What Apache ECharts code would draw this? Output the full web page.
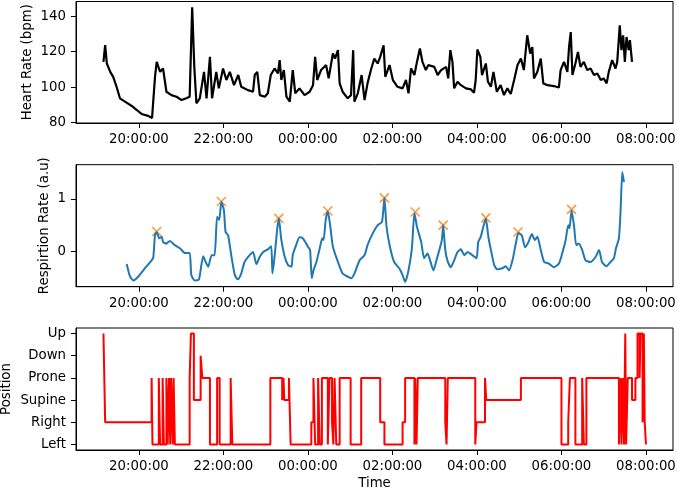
<!DOCTYPE html>
<html>
<head>
<meta charset="utf-8">
<script src="https://cdn.jsdelivr.net/npm/echarts@6/dist/echarts.min.js"></script>
<style>
  html, body { margin: 0; padding: 0; background: #fff; }
  #chart { width: 677px; height: 490px; }
</style>
</head>
<body>
<div id="chart"></div>
<script>
// time is in hours from midnight of the first day (24 = 00:00 next day)
const timeTicks = [20, 22, 24, 26, 28, 30, 32];

const hrTime = [19.16, 19.20, 19.24, 19.32, 19.39, 19.47, 19.55, 19.67, 19.83, 19.95, 20.06, 20.22, 20.31, 20.38, 20.42, 20.50, 20.57, 20.61, 20.65, 20.77, 20.89, 21.01, 21.12, 21.20, 21.26, 21.31, 21.36, 21.44, 21.54, 21.60, 21.68, 21.73, 21.83, 21.89, 21.99, 22.07, 22.15, 22.25, 22.35, 22.42, 22.58, 22.70, 22.74, 22.80, 22.86, 22.98, 23.05, 23.12, 23.21, 23.29, 23.33, 23.37, 23.43, 23.49, 23.57, 23.64, 23.70, 23.80, 23.92, 24.04, 24.12, 24.17, 24.22, 24.31, 24.43, 24.49, 24.59, 24.64, 24.71, 24.75, 24.82, 24.94, 25.02, 25.07, 25.10, 25.18, 25.27, 25.34, 25.41, 25.49, 25.57, 25.65, 25.71, 25.79, 25.83, 25.93, 26.01, 26.12, 26.24, 26.32, 26.38, 26.44, 26.52, 26.58, 26.65, 26.71, 26.79, 26.85, 26.99, 27.07, 27.15, 27.27, 27.32, 27.37, 27.42, 27.46, 27.54, 27.62, 27.74, 27.86, 27.93, 27.97, 28.01, 28.08, 28.12, 28.21, 28.26, 28.33, 28.39, 28.47, 28.56, 28.64, 28.72, 28.80, 28.88, 28.96, 29.04, 29.11, 29.19, 29.26, 29.31, 29.35, 29.43, 29.51, 29.57, 29.67, 29.82, 29.94, 29.98, 30.06, 30.14, 30.18, 30.22, 30.26, 30.33, 30.39, 30.45, 30.53, 30.61, 30.69, 30.77, 30.85, 30.93, 31.00, 31.07, 31.12, 31.20, 31.28, 31.32, 31.38, 31.42, 31.46, 31.50, 31.54, 31.59, 31.62, 31.67];
const hrValue = [114.2, 123.6, 113.3, 108.6, 105.8, 100.2, 93.7, 91.8, 89.4, 87.1, 84.9, 83.8, 82.6, 105.8, 114.2, 108.6, 110.5, 104, 97.4, 95.5, 94.6, 92.7, 93.7, 94.6, 145, 111.4, 90.9, 93.7, 108.6, 93.7, 117, 93.7, 108.6, 99.3, 110.5, 104, 108.6, 101.1, 106.8, 100.2, 98.3, 97.4, 106.8, 108.6, 95.5, 94.6, 96.5, 106.8, 110.5, 107.7, 115.2, 104, 109.6, 94.6, 91.8, 109.6, 96.5, 99.3, 95.5, 97.4, 101.1, 117, 104, 109.6, 112.4, 104.9, 118.9, 116.1, 120.8, 102.1, 97.4, 93.7, 95.5, 120.8, 91.8, 96.5, 106.8, 92.7, 102.1, 109.6, 116.1, 113.3, 117, 123.6, 105.8, 112.4, 104, 100.2, 99.3, 104, 96.5, 110.5, 106.8, 114.2, 121.7, 114.2, 109.6, 112.4, 111.4, 106.8, 109.6, 111.4, 104.9, 120.8, 114.2, 99.3, 103, 101.1, 99.3, 98.7, 96.8, 104, 121.2, 117, 106.8, 113.3, 103, 100.2, 108.6, 97.4, 101.1, 95.5, 99.3, 96.1, 104, 112.4, 116.1, 109.6, 129.2, 118.9, 122.6, 104.9, 108.6, 116.1, 102.1, 101.1, 100.6, 99.8, 109.6, 114.2, 108.6, 122.6, 131, 106.8, 113.3, 119.8, 111.4, 114.2, 109.6, 110.5, 106.8, 107.7, 104, 104.9, 102.1, 108.6, 115.2, 110.5, 114.2, 134.8, 120.8, 129.2, 114.2, 128.2, 120.8, 126.4, 114.2];

const respTime = [19.71, 19.79, 19.87, 19.98, 20.14, 20.30, 20.34, 20.38, 20.42, 20.48, 20.54, 20.57, 20.65, 20.73, 20.85, 20.97, 21.09, 21.20, 21.24, 21.32, 21.42, 21.52, 21.58, 21.64, 21.72, 21.79, 21.85, 21.90, 21.95, 22.01, 22.05, 22.11, 22.19, 22.27, 22.34, 22.42, 22.50, 22.62, 22.70, 22.78, 22.86, 22.94, 23.05, 23.13, 23.16, 23.21, 23.27, 23.31, 23.37, 23.45, 23.53, 23.61, 23.64, 23.72, 23.80, 23.88, 24.00, 24.05, 24.09, 24.13, 24.20, 24.27, 24.34, 24.37, 24.42, 24.47, 24.53, 24.59, 24.71, 24.82, 24.94, 25.02, 25.10, 25.22, 25.34, 25.41, 25.53, 25.65, 25.75, 25.79, 25.81, 25.86, 25.94, 26.04, 26.16, 26.24, 26.30, 26.38, 26.46, 26.52, 26.58, 26.68, 26.75, 26.83, 26.89, 26.97, 27.04, 27.11, 27.17, 27.20, 27.25, 27.30, 27.38, 27.46, 27.54, 27.62, 27.70, 27.78, 27.89, 27.99, 28.03, 28.09, 28.15, 28.21, 28.27, 28.33, 28.41, 28.48, 28.60, 28.68, 28.76, 28.84, 28.92, 28.98, 29.06, 29.14, 29.22, 29.30, 29.37, 29.43, 29.51, 29.59, 29.70, 29.82, 29.94, 30.04, 30.10, 30.16, 30.19, 30.24, 30.30, 30.35, 30.41, 30.49, 30.57, 30.69, 30.81, 30.89, 30.96, 31.06, 31.16, 31.24, 31.29, 31.36, 31.40, 31.44, 31.48];
const respValue = [-0.24, -0.48, -0.55, -0.48, -0.32, -0.17, -0.11, 0.31, 0.37, 0.25, 0.28, 0.18, 0.15, 0.20, 0.12, 0.06, -0.03, -0.03, -0.45, -0.55, -0.53, -0.09, -0.20, -0.29, -0.07, -0.07, 0.66, 0.60, 0.94, 0.79, 0.37, 0.31, -0.10, -0.45, -0.53, -0.42, -0.20, -0.07, -0.01, -0.24, -0.10, -0.01, 0.04, 0.10, -0.42, -0.10, 0.41, 0.63, 0.22, -0.10, -0.26, -0.29, -0.07, 0.12, 0.27, 0.25, 0.09, 0.03, -0.51, -0.36, -0.20, 0.03, 0.25, 0.22, 0.60, 0.76, 0.47, 0.09, -0.20, -0.42, -0.48, -0.51, -0.42, -0.17, -0.07, 0.12, 0.34, 0.50, 0.56, 0.85, 1.02, 0.47, 0.09, -0.20, -0.32, -0.45, -0.58, -0.36, 0.06, 0.73, 0.47, 0.18, -0.13, -0.04, -0.17, -0.36, -0.17, 0.03, 0.22, 0.50, 0.03, -0.17, -0.30, -0.17, -0.01, 0.04, -0.07, -0.01, -0.07, -0.13, 0.18, 0.28, 0.47, 0.62, 0.28, 0.03, -0.26, -0.34, -0.32, -0.28, -0.36, -0.17, 0.15, 0.35, 0.31, 0.08, 0.18, 0.33, 0.22, 0.28, 0.03, -0.20, -0.23, -0.30, -0.23, 0.03, 0.22, 0.50, 0.44, 0.78, 0.47, 0.12, 0.15, 0.03, -0.17, -0.20, -0.10, 0.03, -0.20, -0.28, -0.20, -0.13, 0.06, 0.25, 0.79, 1.51, 1.32];

const peakTime = [20.42, 21.95, 23.31, 24.47, 25.81, 26.54, 27.20, 28.21, 28.97, 30.24];
const peakValue = [0.38, 0.95, 0.63, 0.77, 1.02, 0.75, 0.50, 0.64, 0.37, 0.80];

const positionNames = ['Left', 'Right', 'Supine', 'Prone', 'Down', 'Up'];
// level index into positionNames, held from that time until the next one
const posTime = [19.16, 19.20, 20.30, 20.32, 20.47, 20.50, 20.56, 20.59, 20.65, 20.68, 20.71, 20.74, 20.76, 20.80, 20.82, 20.85, 21.20, 21.23, 21.30, 21.46, 21.50, 21.68, 21.85, 21.91, 22.17, 22.21, 23.11, 23.39, 23.42, 23.44, 23.55, 23.59, 24.08, 24.13, 24.17, 24.24, 24.28, 24.33, 24.47, 24.51, 24.57, 24.60, 24.63, 24.67, 24.75, 25.01, 25.26, 25.71, 25.81, 26.24, 26.30, 26.52, 26.54, 26.57, 26.60, 27.25, 27.28, 27.31, 27.96, 27.99, 28.19, 28.22, 29.04, 30.00, 30.16, 30.20, 30.33, 30.49, 30.53, 30.59, 31.36, 31.40, 31.42, 31.45, 31.48, 31.51, 31.53, 31.57, 31.67, 31.75, 31.80, 31.85, 31.87, 31.92, 31.95, 31.97, 32.00];
const posLevel = [5, 1, 3, 0, 3, 0, 3, 0, 3, 0, 3, 0, 3, 0, 3, 0, 3, 5, 2, 4, 3, 0, 3, 0, 3, 0, 3, 2, 3, 2, 3, 0, 1, 3, 0, 3, 0, 3, 0, 3, 1, 0, 3, 0, 3, 0, 3, 1, 0, 1, 3, 0, 3, 0, 3, 1, 0, 3, 0, 1, 3, 2, 3, 0, 1, 3, 0, 3, 0, 3, 0, 3, 0, 3, 0, 5, 0, 3, 2, 3, 5, 3, 5, 1, 5, 1, 0];

const zip = (a, b) => a.map((t, i) => [t, b[i]]);

// hold each level until the next change (post-style steps)
function stepPoints(times, levels) {
  const out = [];
  for (let i = 0; i < times.length; i++) {
    out.push([times[i], levels[i]]);
    if (i + 1 < times.length) out.push([times[i + 1], levels[i]]);
  }
  return out;
}

const font = 'DejaVu Sans';
const labelStyle = { color: '#000', fontFamily: font, fontSize: 13.3 };
const xMin = 18.51, xMax = 32.64;

function hourLabel(v) {
  const hh = ((Math.round(v) % 24) + 24) % 24;
  return String(hh).padStart(2, '0') + ':00:00';
}

function xAxis(idx, withName) {
  return {
    type: 'value', gridIndex: idx, min: xMin, max: xMax,
    name: withName ? 'Time' : '', nameLocation: 'middle', nameGap: 27,
    nameMoveOverlap: false,
    nameTextStyle: labelStyle,
    axisLine: { show: true, onZero: false, lineStyle: { color: '#000', width: 1 } },
    axisTick: { show: true, length: 5, customValues: timeTicks, lineStyle: { color: '#000' } },
    axisLabel: Object.assign({ customValues: timeTicks, formatter: hourLabel, margin: 10 }, labelStyle),
    splitLine: { show: false }
  };
}

function yAxis(idx, name, min, max, ticks, gap, fmt) {
  return {
    type: 'value', gridIndex: idx, min: min, max: max,
    name: name, nameLocation: 'middle', nameGap: gap, nameTextStyle: labelStyle,
    nameMoveOverlap: false,
    axisLine: { show: true, onZero: false, lineStyle: { color: '#000', width: 1 } },
    axisTick: { show: true, length: 5, customValues: ticks, lineStyle: { color: '#000' } },
    axisLabel: Object.assign({ customValues: ticks, margin: 10, formatter: fmt }, labelStyle),
    splitLine: { show: false }
  };
}

const gridBox = {
  show: true, borderColor: '#000', borderWidth: 1, left: 76, right: 4,
  containLabel: false, outerBoundsMode: 'none'
};

const chart = echarts.init(document.getElementById('chart'), null, { renderer: 'canvas' });

chart.setOption({
  backgroundColor: '#fff',
  animation: false,
  grid: [
    Object.assign({ top: 1.5, height: 121.5 }, gridBox),
    Object.assign({ top: 164.7, height: 122 }, gridBox),
    Object.assign({ top: 328, height: 122 }, gridBox)
  ],
  xAxis: [xAxis(0, false), xAxis(1, false), xAxis(2, true)],
  yAxis: [
    yAxis(0, 'Heart Rate (bpm)', 79.8, 148.2, [80, 100, 120, 140], 42, v => String(Math.round(v))),
    yAxis(1, 'Respirtion Rate (a.u)', -0.67, 1.65, [0, 1], 25, v => String(Math.round(v))),
    yAxis(2, 'Position', -0.25, 5.25, [0, 1, 2, 3, 4, 5], 63, v => positionNames[Math.round(v)])
  ],
  series: [
    {
      name: 'Heart Rate', type: 'line', xAxisIndex: 0, yAxisIndex: 0,
      data: zip(hrTime, hrValue), showSymbol: false,
      lineStyle: { color: '#000', width: 2.2 }
    },
    {
      name: 'Respiration', type: 'line', xAxisIndex: 1, yAxisIndex: 1,
      data: zip(respTime, respValue), showSymbol: false, smooth: 0.2,
      lineStyle: { color: '#1f77b4', width: 2 }
    },
    {
      name: 'Peaks', type: 'scatter', xAxisIndex: 1, yAxisIndex: 1,
      data: zip(peakTime, peakValue),
      symbol: 'path://M0,0L10,10M10,0L0,10', symbolSize: 9,
      itemStyle: { color: 'rgba(0,0,0,0)', borderColor: '#ff7f0e', borderWidth: 1.6 }
    },
    {
      name: 'Position', type: 'line', xAxisIndex: 2, yAxisIndex: 2,
      data: stepPoints(posTime, posLevel), showSymbol: false,
      lineStyle: { color: '#ff0000', width: 2 }
    }
  ]
});
</script>
</body>
</html>
